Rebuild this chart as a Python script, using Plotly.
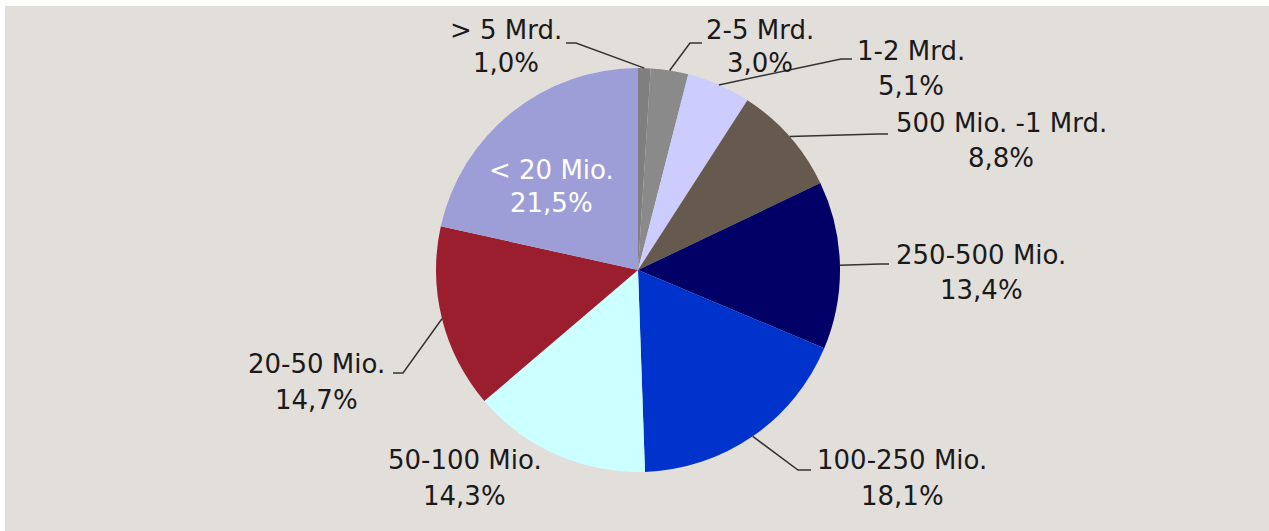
import math
import plotly.graph_objects as go

# ---- data ----
categories = ["> 5 Mrd.", "2-5 Mrd.", "1-2 Mrd.", "500 Mio. -1 Mrd.", "250-500 Mio.",
              "100-250 Mio.", "50-100 Mio.", "20-50 Mio.", "< 20 Mio."]
shares = [1.0, 3.0, 5.1, 8.8, 13.4, 18.1, 14.3, 14.7, 21.5]
pct_labels = ["1,0%", "3,0%", "5,1%", "8,8%", "13,4%", "18,1%", "14,3%", "14,7%", "21,5%"]

# ---- styles / layout ----
colors = ["#7F7F7F", "#8A8A8A", "#CCCCFF", "#665A4E", "#000066",
          "#0033CC", "#CCFFFF", "#9B1E2E", "#9D9DD7"]
W, H = 1269, 531
CX, CY, R = 638, 270, 202          # pie centre / radius in pixels
BG = "#E2DEDA"
FONT = "DejaVu Sans"
FS = 26

# label text centres (pixels): (x, y_line1, y_line2), text colour, leader (start, elbow) or None
label_pos = [
    (506, 30, 63, "#1a1a1a", ((566, 43), (576, 43))),
    (760, 30, 63, "#1a1a1a", ((702, 43), (690, 43))),
    (911, 51, 86, "#1a1a1a", ((852, 59), (841, 59))),
    (1001, 123, 158, "#1a1a1a", ((888, 134), (878, 134))),
    (981, 255, 290, "#1a1a1a", ((889, 264), (880, 264))),
    (902, 460, 496, "#1a1a1a", ((811, 470), (798, 470))),
    (465, 460, 496, "#1a1a1a", None),
    (316, 364, 400, "#1a1a1a", ((393, 373), (403, 373))),
    (551, 170, 203, "#FFFFFF", None),
]


def px(x):
    return x / W


def py(y):
    return 1 - y / H


fig = go.Figure(go.Pie(
    labels=categories,
    values=shares,
    sort=False,
    direction="clockwise",
    rotation=0,
    marker=dict(colors=colors, line=dict(width=0)),
    textinfo="none",
    hoverinfo="skip",
    showlegend=False,
    domain=dict(x=[px(CX - R), px(CX + R)], y=[py(CY + R), py(CY - R)]),
))

shapes = [dict(type="rect", xref="paper", yref="paper", x0=px(5), x1=1, y0=0, y1=py(6),
               fillcolor=BG, line=dict(width=0), layer="below")]
annotations = []

total = sum(shares)
cum = 0.0
for cat, v, pl, pos in zip(categories, shares, pct_labels, label_pos):
    mid = (cum + v / 2) / total * 2 * math.pi
    cum += v
    ex, ey = CX + R * math.sin(mid), CY - R * math.cos(mid)
    x, y1, y2, col, leader = pos
    if leader is not None:
        (sx, sy), (bx, by) = leader
        path = f"M {px(sx)} {py(sy)} L {px(bx)} {py(by)} L {px(ex)} {py(ey)}"
        shapes.append(dict(type="path", xref="paper", yref="paper", path=path,
                           line=dict(color="#333333", width=1.5)))
    for txt, yy in ((cat, y1), (pl, y2)):
        annotations.append(dict(text=txt, x=px(x), y=py(yy), xref="paper", yref="paper",
                                xanchor="center", yanchor="middle", showarrow=False,
                                font=dict(family=FONT, size=FS, color=col)))

fig.update_layout(
    width=W, height=H,
    margin=dict(l=0, r=0, t=0, b=0),
    paper_bgcolor="#FFFFFF",
    plot_bgcolor="#FFFFFF",
    shapes=shapes,
    annotations=annotations,
)

fig.write_html("out.html", config={"displayModeBar": False},
               post_script="document.body.style.margin='0';document.body.style.overflow='hidden';")
